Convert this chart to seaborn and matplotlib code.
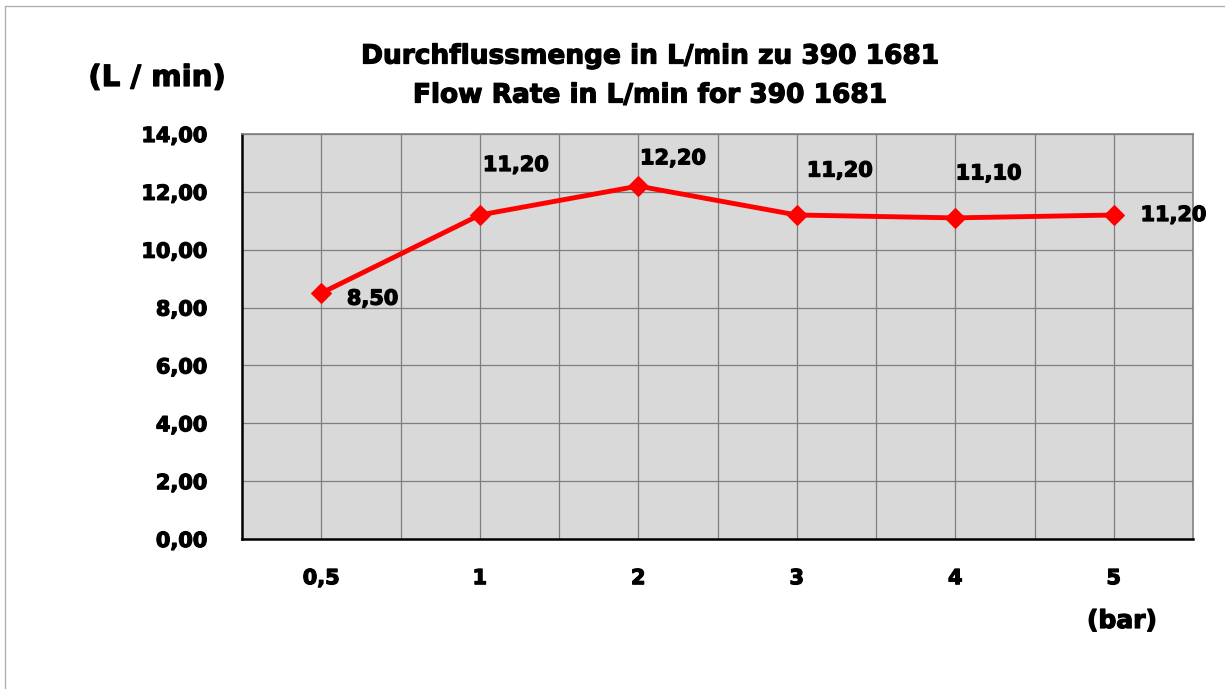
import matplotlib
matplotlib.use("Agg")
import matplotlib.pyplot as plt
import matplotlib.patheffects as pe
from matplotlib.lines import Line2D
import pandas as pd
import seaborn as sns

# --------------------------------
# DATA
# --------------------------------
pressure = ["0,5", "1", "2", "3", "4", "5"]
flow = [8.50, 11.20, 12.20, 11.20, 11.10, 11.20]
flow_labels = ["8,50", "11,20", "12,20", "11,20", "11,10", "11,20"]
y_ticks = [0, 2, 4, 6, 8, 10, 12, 14]

# label offsets in points (dx, dy)
label_offsets = [(37, -4), (26, 36), (25, 20), (31, 32), (24, 32), (43, 0)]

df = pd.DataFrame({"pressure": pressure, "flow": flow})

sns.set_style("white")
plt.rcParams["font.family"] = ["DejaVu Sans"]
plt.rcParams["text.color"] = "black"
plt.rcParams["xtick.color"] = "black"
plt.rcParams["ytick.color"] = "black"

heavy = [pe.withStroke(linewidth=0.9, foreground="black")]

fig = plt.figure(figsize=(12.25, 6.89), dpi=100)
ax = fig.add_axes([242 / 1225, 1 - 539 / 689, (1193 - 242) / 1225, (539 - 134) / 689])
ax.set_facecolor("#d9d9d9")

sns.lineplot(
    data=df,
    x="pressure",
    y="flow",
    color="#ff0000",
    linewidth=3.5,
    marker="D",
    markersize=10,
    markeredgecolor="#ff0000",
    ax=ax,
    zorder=5
)

ax.set_xlim(-0.5, 5.5)
ax.set_ylim(0, 14)
ax.set_yticks(y_ticks)
ax.set_yticklabels([f"{v:.2f}".replace(".", ",") for v in y_ticks])
ax.set_xticks(range(len(pressure)))
ax.set_xticks([i + 0.5 for i in range(len(pressure) - 1)], minor=True)
ax.set_xticklabels(pressure)

ax.grid(True, which="both", color="#7f7f7f", linewidth=0.9)
ax.set_axisbelow(True)
ax.tick_params(axis="both", which="both", length=0, labelsize=15)
ax.tick_params(axis="x", pad=21)
ax.tick_params(axis="y", pad=25)
for lbl in ax.get_xticklabels() + ax.get_yticklabels():
    lbl.set_fontweight("bold")
    lbl.set_path_effects(heavy)

for spine in ax.spines.values():
    spine.set_color("#7f7f7f")
    spine.set_linewidth(1.2)
ax.spines["left"].set_color("black")
ax.spines["bottom"].set_color("black")
ax.spines["left"].set_linewidth(1.8)
ax.spines["bottom"].set_linewidth(1.8)

ax.set_xlabel("")
ax.set_ylabel("")

for i, (val, txt) in enumerate(zip(flow, flow_labels)):
    ax.annotate(
        txt,
        xy=(i, val),
        xytext=label_offsets[i],
        textcoords="offset points",
        ha="center",
        va="center",
        fontsize=15,
        fontweight="bold",
        path_effects=heavy
    )

fig.text(
    650 / 1225, 1 - 76 / 689,
    "Durchflussmenge in L/min zu 390 1681\nFlow Rate in L/min for 390 1681",
    ha="center",
    va="center",
    fontsize=19,
    fontweight="bold",
    linespacing=1.65,
    path_effects=heavy
)
fig.text(157 / 1225, 1 - 78 / 689, "(L / min)", ha="center", va="center",
         fontsize=21, fontweight="bold", path_effects=heavy)
fig.text(1122 / 1225, 1 - 621 / 689, "(bar)", ha="center", va="center",
         fontsize=18, fontweight="bold", path_effects=heavy)

# frame lines of the chart area
fig.add_artist(Line2D([5 / 1225, 1], [1 - 6 / 689, 1 - 6 / 689],
                      transform=fig.transFigure, color="#b0b0b0", linewidth=1))
fig.add_artist(Line2D([5 / 1225, 5 / 1225], [0, 1 - 6 / 689],
                      transform=fig.transFigure, color="#b0b0b0", linewidth=1))

fig.savefig("out.png", dpi=100)
